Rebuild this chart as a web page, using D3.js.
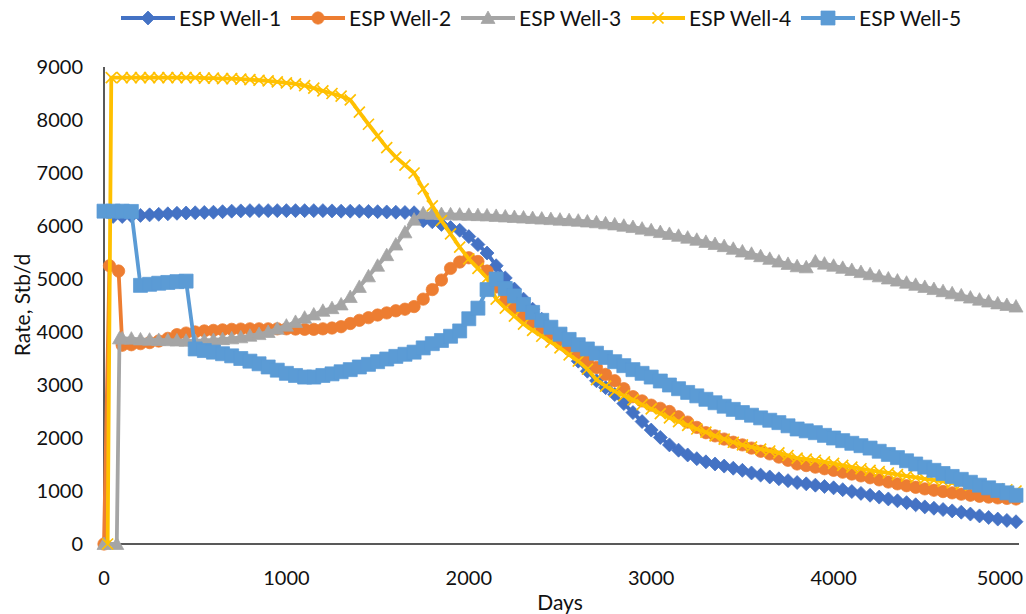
<!DOCTYPE html>
<html>
<head>
<meta charset="utf-8">
<script src="https://cdn.jsdelivr.net/npm/d3@7"></script>
<style>
  body { margin: 0; background: #fff; }
  text { font-family: Lato, "Open Sans", sans-serif; fill: #111; }
</style>
</head>
<body>
<svg id="chart" width="1026" height="614"></svg>
<script>
// ESP well rates (Stb/d) vs days
const seriesNames = ["ESP Well-1", "ESP Well-2", "ESP Well-3", "ESP Well-4", "ESP Well-5"];
const colors = ["#4472C4", "#ED7D31", "#A5A5A5", "#FFC000", "#5B9BD5"];
const xTicks = [0, 1000, 2000, 3000, 4000, 5000];
const yTicks = [0, 1000, 2000, 3000, 4000, 5000, 6000, 7000, 8000, 9000];

// report days shared by all wells after start-up
const days = [
  100,150,200,250,300,350,400,450,500,550,
  600,650,700,750,800,850,900,950,1000,1050,
  1100,1150,1200,1250,1300,1350,1400,1450,1500,1550,
  1600,1650,1700,1750,1800,1850,1900,1950,2000,2050,
  2100,2150,2200,2250,2300,2350,2400,2450,2500,2550,
  2600,2650,2700,2750,2800,2850,2900,2950,3000,3050,
  3100,3150,3200,3250,3300,3350,3400,3450,3500,3550,
  3600,3650,3700,3750,3800,3850,3900,3950,4000,4050,
  4100,4150,4200,4250,4300,4350,4400,4450,4500,4550,
  4600,4650,4700,4750,4800,4850,4900,4950,5000
];

// start-up points [day, rate] before the regular reports
const well1Start = [[50, 6180]];
const well2Start = [[0, 0], [30, 5250], [80, 5150]];
const well3Start = [[0, 0], [70, 0], [85, 3880]];
const well4Start = [[20, 0], [40, 8800]];
const well5Start = [[0, 6280], [50, 6280]];

const well1 = [
  6180,6190,6200,6210,6220,6230,6240,6245,6250,6255,
  6260,6270,6280,6285,6290,6290,6290,6290,6290,6290,
  6290,6290,6290,6285,6280,6280,6280,6275,6270,6265,
  6260,6255,6250,6100,6080,6030,5970,5920,5800,5650,
  5490,5250,5020,4810,4620,4430,4240,4050,3860,3660,
  3450,3260,3080,2950,2820,2650,2480,2310,2150,2010,
  1870,1770,1680,1610,1550,1510,1470,1430,1390,1340,
  1300,1265,1230,1195,1160,1135,1110,1085,1060,1025,
  990,955,920,885,850,815,780,740,700,675,
  650,625,600,565,530,500,470,445,420
];
const well2 = [
  3750,3760,3780,3800,3830,3880,3950,3980,4000,4020,
  4030,4040,4050,4055,4060,4060,4060,4060,4060,4055,
  4050,4050,4060,4075,4100,4160,4220,4270,4320,4360,
  4400,4430,4480,4620,4800,4980,5200,5320,5400,5330,
  5150,4850,4580,4440,4300,4160,4030,3900,3780,3670,
  3560,3450,3330,3200,3080,2930,2780,2700,2620,2560,
  2500,2400,2300,2200,2100,2040,1980,1920,1870,1810,
  1750,1700,1640,1580,1510,1480,1450,1420,1390,1355,
  1320,1285,1250,1210,1170,1135,1100,1070,1040,1015,
  990,965,940,920,900,885,870,860,850
];
const well3 = [
  3880,3875,3860,3855,3850,3845,3840,3835,3830,3840,
  3850,3865,3880,3900,3930,3960,4000,4060,4120,4190,
  4270,4330,4400,4450,4520,4660,4850,5050,5250,5450,
  5650,5880,6120,6240,6230,6225,6220,6215,6210,6205,
  6200,6190,6180,6170,6160,6150,6140,6130,6120,6110,
  6100,6085,6070,6050,6030,6005,5980,5950,5920,5885,
  5850,5815,5780,5740,5700,5660,5620,5570,5520,5475,
  5430,5380,5330,5285,5240,5220,5330,5290,5250,5210,
  5170,5130,5090,5050,5010,4970,4930,4890,4850,4810,
  4770,4730,4690,4650,4610,4575,4540,4510,4480
];
const well4 = [
  8800,8800,8800,8800,8800,8800,8800,8800,8800,8790,
  8790,8780,8780,8770,8760,8750,8740,8720,8700,8680,
  8650,8600,8550,8500,8450,8380,8150,7920,7700,7480,
  7300,7150,7000,6700,6380,6100,5850,5600,5380,5200,
  5020,4620,4450,4300,4150,4030,3920,3810,3700,3570,
  3450,3300,3100,2980,2880,2800,2720,2630,2550,2460,
  2380,2310,2240,2170,2110,2040,1980,1920,1870,1830,
  1790,1755,1720,1670,1620,1600,1580,1550,1520,1485,
  1450,1420,1390,1365,1340,1310,1280,1255,1230,1205,
  1180,1155,1130,1110,1090,1065,1040,1020,1000
];
const well5 = [
  6280,6275,4880,4900,4920,4935,4950,4960,3680,3650,
  3620,3590,3550,3500,3450,3400,3340,3280,3220,3180,
  3150,3150,3180,3210,3250,3290,3340,3390,3440,3490,
  3540,3580,3620,3700,3780,3840,3920,4020,4250,4450,
  4800,5000,4820,4680,4520,4370,4220,4090,3960,3860,
  3760,3680,3600,3520,3440,3365,3290,3220,3150,3075,
  3000,2930,2860,2795,2730,2665,2600,2540,2480,2430,
  2380,2335,2290,2230,2170,2135,2100,2050,2000,1950,
  1900,1855,1810,1750,1690,1630,1570,1510,1450,1390,
  1330,1275,1220,1165,1110,1060,1010,965,920
];

const starts = [well1Start, well2Start, well3Start, well4Start, well5Start];
const rates = [well1, well2, well3, well4, well5];

// marker shapes, centred on 0,0
const markers = [
  {d: "M0,-7L7,0L0,7L-7,0Z", fill: true},
  {d: d3.symbol(d3.symbolCircle, 120)(), fill: true},
  {d: "M0,-7L7,5.5L-7,5.5Z", fill: true},
  {d: "M-5.5,-5.5L5.5,5.5M5.5,-5.5L-5.5,5.5", fill: false},
  {d: "M-7,-7h14v14h-14Z", fill: true}
];

const svg = d3.select("#chart");
const plotLeft = 104, plotRight = 1016, plotTop = 67, plotBottom = 544;

const x = d3.scaleLinear().domain([0, 5000]).range([plotLeft, plotRight]);
const y = d3.scaleLinear().domain([0, 9000]).range([plotBottom, plotTop]);

// axis lines
svg.append("line")
   .attr("x1", plotLeft).attr("x2", plotLeft).attr("y1", plotTop).attr("y2", plotBottom)
   .attr("stroke", "#222").attr("stroke-width", 1.5);
svg.append("line")
   .attr("x1", plotLeft).attr("x2", plotRight + 3).attr("y1", plotBottom).attr("y2", plotBottom)
   .attr("stroke", "#222").attr("stroke-width", 1.5);

// tick labels
svg.selectAll(".ylab").data(yTicks).enter().append("text")
   .attr("class", "ylab")
   .attr("x", plotLeft - 21).attr("y", d => y(d)).attr("dy", "0.36em")
   .attr("text-anchor", "end").style("font-size", "20px")
   .text(d => d);
// last label is kept inside the picture, as the spreadsheet does
svg.selectAll(".xlab").data(xTicks).enter().append("text")
   .attr("class", "xlab")
   .attr("x", d => Math.min(x(d), 1000)).attr("y", 578).attr("dy", "0.36em")
   .attr("text-anchor", "middle").style("font-size", "20px")
   .text(d => d);

// axis titles
svg.append("text")
   .attr("x", 560).attr("y", 602).attr("dy", "0.36em")
   .attr("text-anchor", "middle").style("font-size", "21px")
   .text("Days");
svg.append("text")
   .attr("transform", "translate(22,305) rotate(-90)").attr("dy", "0.36em")
   .attr("text-anchor", "middle").style("font-size", "21px")
   .text("Rate, Stb/d");

// series
const line = d3.line().x(d => x(d[0])).y(d => y(d[1]));

let drawMarker = (g, i, px, py) => {
    const m = markers[i];
    g.append("path")
     .attr("d", m.d)
     .attr("transform", `translate(${px},${py})`)
     .attr("fill", m.fill ? colors[i] : "none")
     .attr("stroke", colors[i])
     .attr("stroke-width", m.fill ? 0.75 : 1.7);
};

seriesNames.forEach((name, i) => {
    const pts = starts[i].concat(days.map((d, k) => [d, rates[i][k]]));
    const g = svg.append("g").attr("class", "series");
    g.append("path")
     .datum(pts)
     .attr("d", line)
     .attr("fill", "none")
     .attr("stroke", colors[i])
     .attr("stroke-width", 3.8)
     .attr("stroke-linejoin", "round");
    pts.forEach(p => drawMarker(g, i, x(p[0]), y(p[1])));
});

// legend
seriesNames.forEach((name, i) => {
    const lx = 121 + i * 170, ly = 18;
    const g = svg.append("g").attr("class", "legend");
    g.append("line")
     .attr("x1", lx).attr("x2", lx + 54).attr("y1", ly).attr("y2", ly)
     .attr("stroke", colors[i]).attr("stroke-width", 3.8);
    drawMarker(g, i, lx + 27, ly);
    g.append("text")
     .attr("x", lx + 58).attr("y", ly).attr("dy", "0.36em")
     .style("font-size", "21px")
     .text(name);
});
</script>
</body>
</html>
